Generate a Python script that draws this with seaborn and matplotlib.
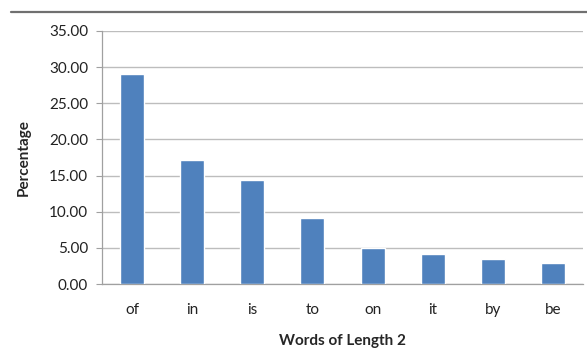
import matplotlib
matplotlib.use("Agg")
import matplotlib.pyplot as plt
import seaborn as sns
import pandas as pd
from matplotlib.lines import Line2D

words = ["of", "in", "is", "to", "on", "it", "by", "be"]
percentages = [29.0, 17.1, 14.4, 9.15, 4.95, 4.1, 3.4, 2.95]
y_ticks = [0, 5, 10, 15, 20, 25, 30, 35]

df = pd.DataFrame({"word": words, "pct": percentages})

sns.set_theme(style="white")
plt.rcParams["font.family"] = ["Lato", "DejaVu Sans"]

fig = plt.figure(figsize=(5.87, 3.52), dpi=100)
ax = fig.add_axes([102 / 587, 1 - 284 / 352, (583 - 102) / 587, (284 - 31) / 352])

sns.barplot(data=df, x="word", y="pct", color="#4F81BD", saturation=1,
            width=0.4, ax=ax, zorder=3)

ax.set_ylim(0, 35)
ax.set_xlim(-0.5, len(words) - 0.5)
ax.set_yticks(y_ticks)
ax.set_yticklabels([f"{v:.2f}" for v in y_ticks], fontsize=11, color="#222222")
ax.set_xticks(range(len(words)))
ax.set_xticklabels(words, fontsize=11, color="#222222")

# category boundary ticks on the x axis
ax.set_xticks([i - 0.5 for i in range(len(words) + 1)], minor=True)
ax.tick_params(axis="x", which="major", length=0, pad=14)
ax.tick_params(axis="x", which="minor", length=4, width=0.8, color="#a0a0a0", direction="out")
ax.tick_params(axis="y", length=4, width=0.8, color="#a0a0a0", direction="out", pad=6, left=True)

ax.grid(axis="y", color="#bdbdbd", linewidth=1.0, zorder=0)
ax.set_axisbelow(True)
for side in ["top", "right"]:
    ax.spines[side].set_visible(False)
for side in ["left", "bottom"]:
    ax.spines[side].set_color("#a0a0a0")
    ax.spines[side].set_linewidth(0.9)

ax.set_xlabel("Words of Length 2", fontsize=11, fontweight="bold", labelpad=12)
ax.set_ylabel("Percentage", fontsize=11, fontweight="bold", labelpad=13)

# dark rule across the top of the chart area
fig.add_artist(Line2D([11 / 587, 1.0], [1 - 12 / 352, 1 - 12 / 352],
                      transform=fig.transFigure, color="#707070", linewidth=1.6))

fig.savefig("out.png", dpi=100, facecolor="white")
